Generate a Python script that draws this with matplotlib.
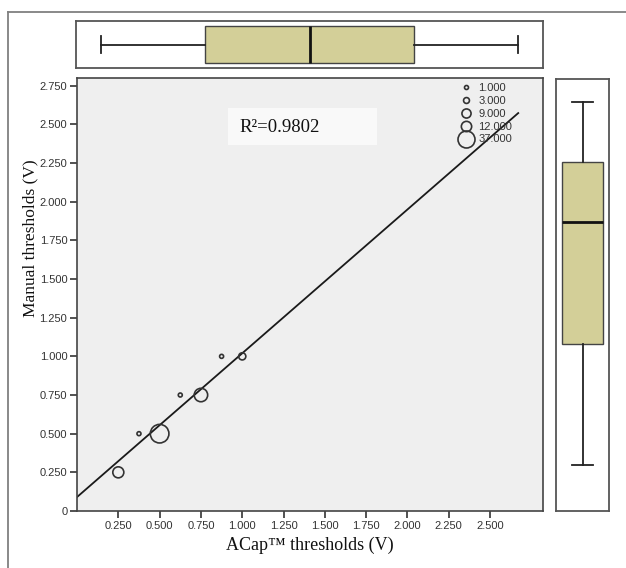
import numpy as np
import matplotlib.pyplot as plt
from matplotlib.lines import Line2D
from matplotlib.patches import Rectangle

# data
acap = [0.25, 0.375, 0.5, 0.625, 0.75, 0.875, 1.0]
manual = [0.25, 0.5, 0.5, 0.75, 0.75, 1.0, 1.0]
counts = [14, 1, 45, 1, 22, 1, 5]

legend_counts = [1, 3, 9, 12, 37]
legend_labels = ["1.000", "3.000", "9.000", "12.000", "37.000"]

fit_intercept = 0.09
fit_slope = 0.93
fit_range = [0.0, 2.67]
r2_text = "R\u00b2=0.9802"

# marginal box plot stats (whislo, q1, med, q3, whishi)
box_x = [0.15, 0.78, 1.41, 2.04, 2.67]
box_y = [0.30, 1.08, 1.87, 2.26, 2.65]

xticks = [0.25, 0.5, 0.75, 1.0, 1.25, 1.5, 1.75, 2.0, 2.25, 2.5]
yticks = [0, 0.25, 0.5, 0.75, 1.0, 1.25, 1.5, 1.75, 2.0, 2.25, 2.5, 2.75]

W, H = 626, 568
fig = plt.figure(figsize=(W / 100, H / 100), dpi=100)
fig.patch.set_facecolor("white")

sans = ["Liberation Sans", "DejaVu Sans"]
serif = ["Liberation Serif", "DejaVu Serif"]
box_color = "#d3cf98"
edge = "#333333"


def radius_px(c):
    return 2 + 6.5 * (np.sqrt(c) - 1) / (np.sqrt(37) - 1)


def area(c):
    return (1.44 * radius_px(c)) ** 2


def fx(px):
    return px / W


def fy(py):
    return 1 - py / H


# outer frame (only top and left fall inside the image)
fig.add_artist(Line2D([fx(8), 1], [fy(12), fy(12)], color="#808080", lw=1.3))
fig.add_artist(Line2D([fx(8), fx(8)], [0, fy(12)], color="#808080", lw=1.3))

# main scatter
ax = fig.add_axes([fx(77), fy(511), (543 - 77) / W, (511 - 78) / H])
ax.set_facecolor("#efefef")
ax.set_xlim(0, 2.82)
ax.set_ylim(0, 2.80)

xs = np.array(fit_range)
ax.plot(xs, fit_intercept + fit_slope * xs, color="#1a1a1a", lw=1.3, zorder=2)
ax.scatter(acap, manual, s=[area(c) for c in counts], facecolors="none",
           edgecolors=edge, linewidths=1.2, zorder=3)

ax.add_patch(Rectangle((0.324, 0.845), 0.32, 0.086, transform=ax.transAxes,
                       facecolor="#f9f9f9", edgecolor="none", zorder=1))
ax.text(0.349, 0.885, r2_text, transform=ax.transAxes, fontsize=13.5,
        family=serif, color="#111111", va="center", ha="left", zorder=4)

handles = [Line2D([], [], ls="none", marker="o", markersize=2 * 0.72 * radius_px(c),
                  markerfacecolor="none", markeredgecolor=edge, markeredgewidth=1.2)
           for c in legend_counts]
leg = ax.legend(handles, legend_labels, loc="upper left", bbox_to_anchor=(0.806, 1.003),
                frameon=False, labelspacing=0.25, handlelength=1.2,
                handletextpad=0.5, borderaxespad=0.2, prop={"family": sans, "size": 8})
for t in leg.get_texts():
    t.set_color("#333333")

ax.set_xticks(xticks)
ax.set_xticklabels([f"{v:.3f}" for v in xticks])
ax.set_yticks(yticks)
ax.set_yticklabels(["0"] + [f"{v:.3f}" for v in yticks[1:]])
ax.tick_params(direction="out", length=5, width=1.2, color="#333333",
               labelsize=8, labelcolor="#333333", pad=2)
for lab in ax.get_xticklabels() + ax.get_yticklabels():
    lab.set_family(sans)
for s in ax.spines.values():
    s.set_color("#444444")
    s.set_linewidth(1.2)

ax.set_xlabel("ACap\u2122 thresholds (V)", family=serif, fontsize=13, color="#111111", labelpad=4)
ax.set_ylabel("Manual thresholds (V)", family=serif, fontsize=12.5, color="#111111")
ax.yaxis.set_label_coords(-0.083, 0.63)


def box_stats(v):
    return [{"whislo": v[0], "q1": v[1], "med": v[2], "q3": v[3], "whishi": v[4], "fliers": []}]


box_kw = dict(patch_artist=True, showfliers=False,
              boxprops=dict(facecolor=box_color, edgecolor="#444444", linewidth=1.0),
              medianprops=dict(color="#111111", linewidth=2.0),
              whiskerprops=dict(color="#222222", linewidth=1.3),
              capprops=dict(color="#222222", linewidth=1.3))

# top marginal box plot
axt = fig.add_axes([fx(76), fy(68), (543 - 76) / W, (68 - 21) / H])
axt.bxp(box_stats(box_x), positions=[1], widths=0.79, vert=False, capwidths=0.36, **box_kw)
axt.set_xlim(0, 2.82)
axt.set_ylim(0.5, 1.5)

# right marginal box plot
axr = fig.add_axes([fx(556), fy(511), (609 - 556) / W, (511 - 79) / H])
axr.bxp(box_stats(box_y), positions=[1], widths=0.79, vert=True, capwidths=0.38, **box_kw)
axr.set_ylim(0, 2.80)
axr.set_xlim(0.5, 1.5)

for a in (axt, axr):
    a.set_xticks([])
    a.set_yticks([])
    a.set_facecolor("white")
    for s in a.spines.values():
        s.set_color("#555555")
        s.set_linewidth(1.3)

fig.savefig("out.png", dpi=100)
